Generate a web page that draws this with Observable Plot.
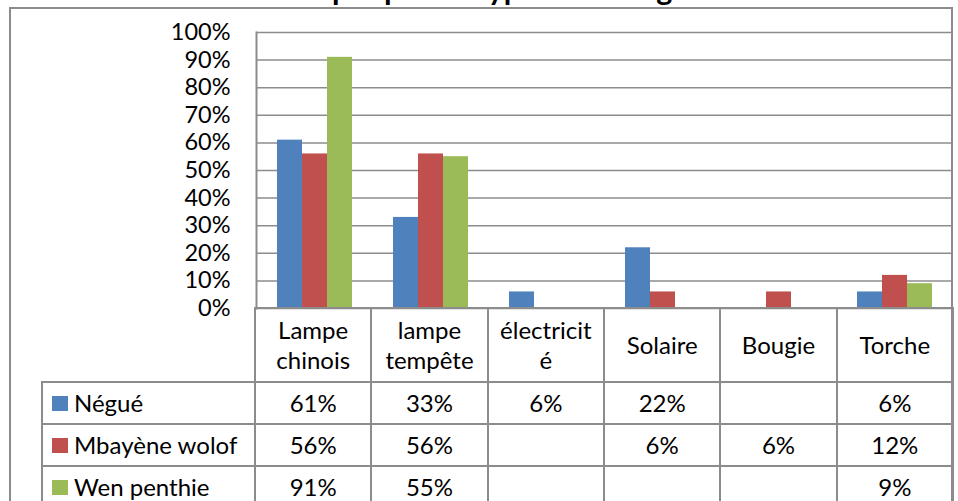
<!DOCTYPE html>
<html><head><meta charset="utf-8">
<script src="https://cdn.jsdelivr.net/npm/d3@7"></script>
<script src="https://cdn.jsdelivr.net/npm/@observablehq/plot@0.6"></script>
<style>
html,body{margin:0;padding:0;background:#fff;}
#root{position:relative;width:958px;height:501px;overflow:hidden;font-family:Lato,"Open Sans",sans-serif;color:#000;}
#frame{position:absolute;left:8.5px;top:6.5px;width:944px;height:600px;border:2px solid #8c8c8c;box-sizing:border-box;}
#title{position:absolute;left:0;width:972px;top:-27px;text-align:center;font-weight:bold;font-size:30.5px;line-height:1;white-space:nowrap;}
#chart{position:absolute;left:0;top:0;}
.cell{position:absolute;box-sizing:border-box;border:2px solid #8c8c8c;display:flex;align-items:center;justify-content:center;text-align:center;font-size:24px;line-height:30px;white-space:pre;}
.legcell{justify-content:flex-start;padding-left:9px;}
.sw{display:inline-block;width:16px;height:15px;margin-right:6px;}
</style></head><body><div id="root"><div id="frame"></div><div id="title"></div></div>
<script>
const title = "Graphique 3 : Type d'éclairage";
const categories = ["Lampe chinois","lampe tempête","électricité","Solaire","Bougie","Torche"];
const categoryLabels = ["Lampe\nchinois","lampe\ntempête","électricit\né","Solaire","Bougie","Torche"];
const series = ["Négué","Mbayène wolof","Wen penthie"];
const negue = [0.61,0.33,0.06,0.22,null,0.06];
const mbayeneWolof = [0.56,0.56,null,0.06,0.06,0.12];
const wenPenthie = [0.91,0.55,null,null,null,0.09];
const colors = ["#4F81BD","#C0504D","#9BBB59"];
const yTicks = [0,0.1,0.2,0.3,0.4,0.5,0.6,0.7,0.8,0.9,1];

const seriesValues = [negue, mbayeneWolof, wenPenthie];
const rows = [];
series.forEach((s, si) => categories.forEach((c, ci) => {
  const v = seriesValues[si][ci];
  if (v != null) rows.push({category: c, series: s, value: v});
}));

const root = document.getElementById("root");
document.getElementById("title").textContent = title;

const W = 958, mL = 255, mR = 5, mT = 32, mB = 4, H = 312;
const chart = Plot.plot({
  width: W, height: H, marginTop: mT, marginBottom: mB, marginLeft: mL, marginRight: mR,
  style: {fontFamily: "Lato, 'Open Sans', sans-serif", fontSize: "23.5px", color: "#000", background: "transparent", overflow: "visible"},
  fx: {domain: categories, padding: 0, axis: null},
  x: {domain: series, paddingInner: 0, paddingOuter: 0.736, axis: null},
  y: {domain: [0, 1], axis: null},
  color: {domain: series, range: colors},
  marks: [
    Plot.ruleY(yTicks, {stroke: "#8c8c8c", strokeWidth: 1.5}),
    Plot.barY(rows, {fx: "category", x: "series", y: "value", fill: "series"}),
    Plot.axisY({ticks: yTicks, tickFormat: d3.format(".0%"), tickSize: 0, tickPadding: 26, fontSize: 23.5, anchor: "left", label: null}),
    Plot.frame({anchor: "left", facetAnchor: "left", stroke: "#8c8c8c", strokeWidth: 2})
  ]
});
chart.id = "chart";
root.appendChild(chart);

// data table below the chart
const tableLeft = 42, plotRight = W - mR;
const step = (plotRight - mL) / categories.length;
const colEdges = [tableLeft, mL, ...categories.map((c, i) => mL + step * (i + 1))];
const rowEdges = [H - mB, H - mB + 74, H - mB + 116, H - mB + 158, H - mB + 200];
const fmt = d3.format(".0%");
function cell(c0, r0, html, cls) {
  const d = document.createElement("div");
  d.className = "cell" + (cls ? " " + cls : "");
  d.style.left = (colEdges[c0] - 1) + "px";
  d.style.top = (rowEdges[r0] - 1) + "px";
  d.style.width = (colEdges[c0 + 1] - colEdges[c0] + 2) + "px";
  d.style.height = (rowEdges[r0 + 1] - rowEdges[r0] + 2) + "px";
  if (typeof html === "string") d.textContent = html; else d.appendChild(html);
  root.appendChild(d);
}
categoryLabels.forEach((lab, i) => cell(i + 1, 0, lab));
series.forEach((s, si) => {
  const frag = document.createElement("span");
  const sw = document.createElement("span");
  sw.className = "sw"; sw.style.background = colors[si];
  frag.appendChild(sw);
  frag.appendChild(document.createTextNode(s));
  frag.style.display = "flex"; frag.style.alignItems = "center";
  cell(0, si + 1, frag, "legcell");
  categories.forEach((c, ci) => {
    const v = seriesValues[si][ci];
    cell(ci + 1, si + 1, v == null ? "" : fmt(v));
  });
});
</script></body></html>
